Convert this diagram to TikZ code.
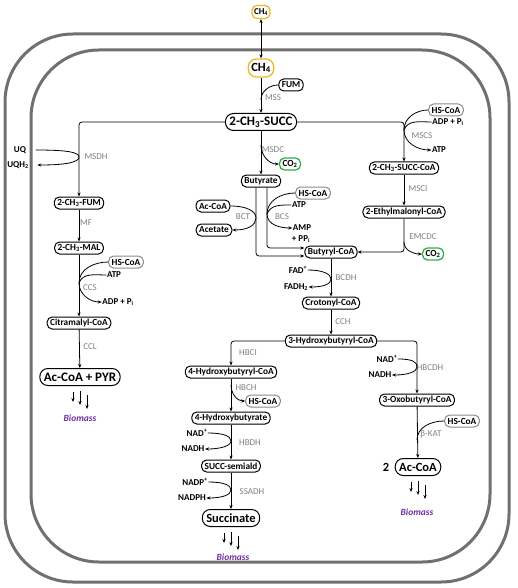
\documentclass[tikz,border=0pt]{standalone}
\usepackage{fontspec}
\setmainfont{Carlito}
\usetikzlibrary{arrows.meta,calc}
\definecolor{framegray}{HTML}{707070}
\definecolor{enzgray}{HTML}{808080}
\definecolor{cofgray}{HTML}{8A8A8A}
\definecolor{ch4col}{HTML}{F2B81C}
\definecolor{co2col}{HTML}{2DB04B}
\definecolor{biopurple}{HTML}{7030A0}
\tikzset{
  met/.style={draw, rounded corners=5pt, line width=1pt, inner xsep=3pt, inner ysep=1pt,
    minimum height=12pt, font=\fontsize{9.3}{10}\selectfont\bfseries},
  bigmet/.style={met, rounded corners=8pt, minimum height=17pt, inner xsep=4pt,
    font=\fontsize{13}{14}\selectfont\bfseries},
  cof/.style={met, draw=cofgray},
  chbox/.style={met, draw=ch4col, line width=1.3pt},
  cobox/.style={met, draw=co2col, line width=1.3pt},
  lbl/.style={font=\fontsize{9}{10}\selectfont\bfseries, inner sep=0.5pt},
  enz/.style={font=\fontsize{9}{10}\selectfont, text=enzgray, inner sep=0.5pt},
  bio/.style={font=\fontsize{9.5}{10}\selectfont\bfseries\itshape, text=biopurple, inner sep=0.5pt},
  side/.style={line width=0.8pt},
  conn/.style={line width=0.8pt, -{Stealth[length=4pt,width=3.2pt]}},
  dconn/.style={line width=0.8pt, {Stealth[length=4pt,width=3.2pt]}-{Stealth[length=4pt,width=3.2pt]}},
  cellframe/.style={line width=3pt, draw=framegray, rounded corners=68pt}
}
\newcommand{\threearrows}[1]{%
  \draw[conn] ([xshift=-7pt,yshift=-6pt]#1.south) -- ++(0,10);
  \draw[conn] ([xshift=0pt,yshift=-5pt]#1.south) -- ++(0,14);
  \draw[conn] ([xshift=7pt,yshift=-9pt]#1.south) -- ++(0,14);
}
% cofactor pair touching a vertical line: #1 in, #2 junction, #3 out, #4 width, #5 height
\newcommand{\pairloop}[5]{%
  \draw[conn] (#1) .. controls +(#4,0) and +(0,-#5) .. (#2)
     .. controls +(0,#5) and +(#4,0) .. (#3);
}
\begin{document}
\begin{tikzpicture}[x=1pt,y=-1pt]
\useasboundingbox (0,0) rectangle (517,588);
% cell envelopes
\draw[cellframe] (5,34) rectangle (509,582);
\draw[cellframe] (31,50) rectangle (490,562);

% ---- top
\node[chbox, font=\fontsize{9}{10}\selectfont\bfseries, minimum height=13pt, inner xsep=2pt] (ch4out) at (261,12) {CH\textsubscript{4}};
\node[chbox, rounded corners=8pt, minimum height=18pt, inner xsep=3pt, font=\fontsize{12.5}{14}\selectfont\bfseries] (ch4in) at (261,68) {CH\textsubscript{4}};
\node[met] (fum) at (291,85) {FUM};
\node[enz] (mss) at (273,98) {MSS};
\node[bigmet] (succ) at (261,122) {2-CH\textsubscript{3}-SUCC};

% ---- left branch
\node[lbl] (uq) at (20,150) {UQ};
\node[lbl] (uqh) at (18,165) {UQH\textsubscript{2}};
\node[enz] (msdh) at (96,157) {MSDH};
\node[met] (fum2) at (79,203) {2-CH\textsubscript{3}-FUM};
\node[enz] (mf) at (86,223) {MF};
\node[met] (mal) at (79,248) {2-CH\textsubscript{3}-MAL};
\node[cof] (hsL) at (126,262) {HS-CoA};
\node[lbl] (atpL) at (114,275) {ATP};
\node[enz] (ccs) at (90,288) {CCS};
\node[lbl] (adpL) at (118,302) {ADP + P\textsubscript{i}};
\node[met] (citra) at (79,323) {Citramalyl-CoA};
\node[enz] (ccl) at (90,347) {CCL};
\node[bigmet] (acpyr) at (80,377) {Ac-CoA + PYR};
\node[bio] (bioL) at (80,418) {Biomass};

% ---- right branch
\node[cof] (hsR) at (446,110) {HS-CoA};
\node[lbl] (adpR) at (448,122) {ADP + P\textsubscript{i}};
\node[enz] (mscs) at (422,136) {MSCS};
\node[lbl] (atpR) at (439,150) {ATP};
\node[met] (scoa) at (404,168) {2-CH\textsubscript{3}-SUCC-CoA};
\node[enz] (msci) at (418,189) {MSCI};
\node[met] (ethyl) at (404,212) {2-Ethylmalonyl-CoA};
\node[enz] (emcdc) at (423,237) {EMCDC};
\node[cobox] (co2R) at (433,254) {CO\textsubscript{2}};

% ---- centre
\node[enz] (msdc) at (273,150) {MSDC};
\node[cobox] (co2C) at (290,164) {CO\textsubscript{2}};
\node[met] (buta) at (261,181) {Butyrate};
\node[met] (acL) at (213,206) {Ac-CoA};
\node[met] (acet) at (214,230) {Acetate};
\node[enz] (bct) at (243,217) {BCT};
\node[cof] (hsC) at (313,193) {HS-CoA};
\node[lbl] (atpC) at (299,205) {ATP};
\node[enz] (bcs) at (282,217) {BCS};
\node[lbl] (amp) at (302,228) {AMP};
\node[lbl] (ppi) at (301,239) {+ PP\textsubscript{i}};
\node[met] (bcoa) at (331,252) {Butyryl-CoA};
\node[lbl] (fad) at (298,270) {FAD\textsuperscript{+}};
\node[lbl] (fadh) at (296,287) {FADH\textsubscript{2}};
\node[enz] (bcdh) at (346,278) {BCDH};
\node[met] (crot) at (331,303) {Crotonyl-CoA};
\node[enz] (cch) at (343,322) {CCH};
\node[met] (hb3) at (331,341) {3-Hydroxybutyryl-CoA};
\node[enz] (hbci) at (248,353) {HBCI};
\node[met] (hb4c) at (231,372) {4-Hydroxybutyryl-CoA};
\node[enz] (hbch) at (246,388) {HBCH};
\node[cof] (hsB) at (263,401) {HS-CoA};
\node[met] (hb4) at (231,418) {4-Hydroxybutyrate};
\node[lbl] (nad1) at (197,433) {NAD\textsuperscript{+}};
\node[lbl] (nadh1) at (193,449) {NADH};
\node[enz] (hbdh) at (250,443) {HBDH};
\node[met] (ssa) at (231,466) {SUCC-semiald};
\node[lbl] (nadp) at (195,482) {NADP\textsuperscript{+}};
\node[lbl] (nadph) at (192,498) {NADPH};
\node[enz] (ssadh) at (252,492) {SSADH};
\node[bigmet, font=\fontsize{12.5}{14}\selectfont\bfseries] (succi) at (231,518) {Succinate};
\node[bio] (bioC) at (233,557) {Biomass};

% ---- right bottom
\node[lbl] (nad2) at (387,359) {NAD\textsuperscript{+}};
\node[lbl] (nadh2) at (380,375) {NADH};
\node[enz] (hbcdh) at (430,368) {HBCDH};
\node[met] (oxo) at (417,400) {3-Oxobutyryl-CoA};
\node[cof] (hsBR) at (462,421) {HS-CoA};
\node[enz] (bkat) at (431,434) {β-KAT};
\node[bigmet, font=\fontsize{12.5}{14}\selectfont\bfseries] (acR) at (418,467) {Ac-CoA};
\node[font=\fontsize{12.5}{14}\selectfont\bfseries, inner sep=0.5pt] (two) at (386,467) {2};
\node[bio] (bioR) at (417,512) {Biomass};

% ---- junction points on the main lines
\coordinate (jFUM) at (261,100);
\coordinate (jMSDC) at (261,145);
\coordinate (jMSDH) at (79,157);
\coordinate (jCCS) at (79,283);
\coordinate (jMSCS) at (404,130);
\coordinate (jEMC) at (404,242);
\coordinate (jBCT) at (256,218);
\coordinate (jBCS) at (267,214);
\coordinate (jBCDH) at (331,279);
\coordinate (jHBCH) at (231,385);
\coordinate (jHBDH) at (231,441);
\coordinate (jSSADH) at (231,490);
\coordinate (jHBCDH) at (417,367);
\coordinate (jKAT) at (417,440);

% ---- main connectors
\draw[dconn] (ch4out.south) -- (ch4in.north);
\draw[conn] (ch4in.south) -- (succ.north);
\draw[conn, rounded corners=3pt] (succ.west) -| (fum2.north);
\draw[conn, rounded corners=3pt] (succ.east) -| (scoa.north);
\draw[conn] (succ.south) -- (buta.north);
\draw[conn] (fum2) -- (mal);
\draw[conn] (mal) -- (citra);
\draw[conn] (citra) -- (acpyr);
\draw[conn] (scoa) -- (ethyl);
\draw[conn, rounded corners=3pt] (ethyl.south) |- (bcoa.east);
\draw[conn, rounded corners=3pt] ([xshift=-5pt]buta.south) |- ([yshift=-4pt]bcoa.west);
\draw[conn, rounded corners=3pt] ([xshift=6pt]buta.south) |- ([yshift=4pt]bcoa.west);
\draw[conn] (bcoa) -- (crot);
\draw[conn] (crot) -- (hb3);
\draw[conn, rounded corners=3pt] (hb3.west) -| (hb4c.north);
\draw[conn, rounded corners=3pt] (hb3.east) -| (oxo.north);
\draw[conn] (hb4c) -- (hb4);
\draw[conn] (hb4) -- (ssa);
\draw[conn] (ssa) -- (succi);
\draw[conn] (oxo) -- (acR);

% ---- side reactions
\draw[side] (fum.west) to[out=180,in=90] (jFUM);
\draw[conn] (jMSDC) to[out=-90,in=180] (co2C.west);
\pairloop{[xshift=9pt]uq.east}{jMSDH}{[xshift=8pt]uqh.east}{30}{5}
\draw[side] (hsL.west) to[out=180,in=90] (jCCS);
\draw[side] (atpL.west) to[out=180,in=70] (jCCS);
\draw[conn] (jCCS) to[out=-90,in=180] (adpL.west);
\draw[side] (hsR.west) to[out=180,in=90] (jMSCS);
\draw[side] (adpR.west) to[out=180,in=70] (jMSCS);
\draw[conn] (jMSCS) to[out=-90,in=180] (atpR.west);
\draw[conn] (jEMC) to[out=-90,in=180] (co2R.west);
\pairloop{acL.east}{jBCT}{acet.east}{16}{7}
\draw[side] (hsC.west) to[out=180,in=90] (jBCS);
\draw[side] (atpC.west) to[out=180,in=70] (jBCS);
\draw[conn] (jBCS) to[out=-90,in=180] (amp.west);
\pairloop{fad.east}{jBCDH}{fadh.east}{15}{5}
\draw[conn] (jHBCH) to[out=-90,in=180] (hsB.west);
\pairloop{nad1.east}{jHBDH}{nadh1.east}{15}{5}
\pairloop{nadp.east}{jSSADH}{nadph.east}{15}{5}
\pairloop{nad2.east}{jHBCDH}{nadh2.east}{15}{5}
\draw[side] (hsBR.west) to[out=180,in=90] (jKAT);

% ---- towards biomass
\threearrows{acpyr}
\threearrows{succi}
\threearrows{acR}
\end{tikzpicture}
\end{document}
